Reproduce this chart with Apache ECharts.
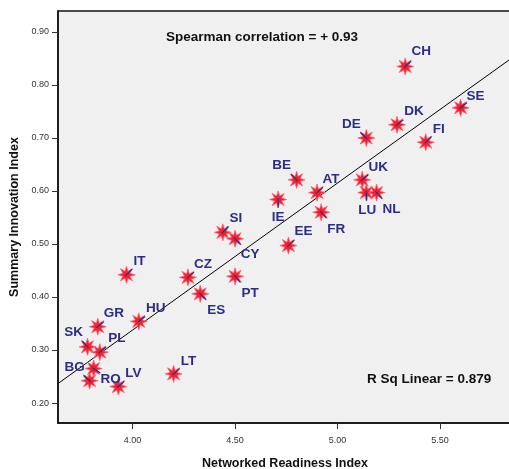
<!DOCTYPE html>
<html>
<head>
<meta charset="utf-8">
<style>
  html, body { margin: 0; padding: 0; background: #fff; }
  #chart { width: 509px; height: 469px; }
</style>
<script src="https://cdn.jsdelivr.net/npm/echarts@6/dist/echarts.min.js"></script>
</head>
<body>
<div id="chart"></div>
<script>
// country codes
const countries = ['CH', 'SE', 'DK', 'DE', 'FI', 'BE', 'UK', 'AT', 'LU', 'NL', 'IE', 'FR', 'EE', 'SI', 'CY',
  'IT', 'CZ', 'PT', 'ES', 'HU', 'GR', 'SK', 'PL', 'BG', 'RO', 'LV', 'LT']
// Networked Readiness Index (x)
const nri = [5.33, 5.60, 5.29, 5.14, 5.43, 4.80, 5.12, 4.90, 5.14, 5.19, 4.71, 4.92, 4.76, 4.44, 4.50,
  3.97, 4.27, 4.50, 4.33, 4.03, 3.83, 3.78, 3.84, 3.79, 3.81, 3.93, 4.20]
// Summary Innovation Index (y)
const sii = [0.835, 0.757, 0.725, 0.700, 0.692, 0.621, 0.621, 0.597, 0.597, 0.597, 0.584, 0.560, 0.497, 0.522, 0.510,
  0.442, 0.437, 0.439, 0.406, 0.354, 0.344, 0.306, 0.296, 0.242, 0.265, 0.231, 0.255]
const xTicks = [4.0, 4.5, 5.0, 5.5]
const yTicks = [0.2, 0.3, 0.4, 0.5, 0.6, 0.7, 0.8, 0.9]

// where each label sits relative to its marker (px)
const labelOffset = {
  CH: [16, -15], SE: [15, -12], DK: [17, -13], DE: [-15, -14], FI: [13, -13], BE: [-15, -15],
  UK: [16, -13], AT: [14, -13], LU: [1, 18], NL: [15, 17], IE: [0, 18], FR: [15, 17], EE: [15, -14],
  SI: [13, -14], CY: [15, 16], IT: [13, -13], CZ: [15, -13], PT: [15, 17], ES: [16, 16], HU: [17, -13],
  GR: [16, -13], SK: [-14, -15], PL: [17, -14], BG: [-15, -13], RO: [17, 11], LV: [15, -13], LT: [15, -13]
}

const xMin = 3.636, xMax = 5.851
const yMin = 0.1623, yMax = 0.9396

// least squares fit line
function fitLine(xs, ys) {
  const n = xs.length
  const mx = xs.reduce((a, b) => a + b, 0) / n
  const my = ys.reduce((a, b) => a + b, 0) / n
  let sxy = 0, sxx = 0
  for (let i = 0; i < n; i++) {
    sxy += (xs[i] - mx) * (ys[i] - my)
    sxx += (xs[i] - mx) * (xs[i] - mx)
  }
  const b = sxy / sxx
  const a = my - b * mx
  return [[xMin, a + b * xMin], [xMax, a + b * xMax]]
}

// 8 point burst marker
function starPath() {
  const pts = []
  for (let i = 0; i < 16; i++) {
    const r = i % 2 === 0 ? 10 : 4.4
    const ang = Math.PI * i / 8 - Math.PI / 2
    pts.push((10 + r * Math.cos(ang)).toFixed(2) + ' ' + (10 + r * Math.sin(ang)).toFixed(2))
  }
  return 'path://M' + pts.join(' L') + ' Z'
}

const points = countries.map((c, i) => ({
  name: c,
  value: [nri[i], sii[i]],
  label: { offset: labelOffset[c] }
}))

const font = '"Liberation Sans", Arial, sans-serif'
const chart = echarts.init(document.getElementById('chart'))

chart.setOption({
  animation: false,
  backgroundColor: '#fff',
  grid: {
    left: 58,
    top: 11,
    right: -3,
    bottom: 46,
    containLabel: false,
    outerBoundsMode: 'none',
    show: true,
    backgroundColor: '#f0f0f0',
    borderColor: '#111',
    borderWidth: 1.5
  },
  xAxis: {
    type: 'value',
    min: xMin,
    max: xMax,
    name: 'Networked Readiness Index',
    nameLocation: 'middle',
    nameGap: 34,
    nameTextStyle: { fontFamily: font, fontWeight: 'bold', fontSize: 12.5, color: '#111' },
    splitLine: { show: false },
    axisLine: { lineStyle: { color: '#111', width: 1.5 } },
    axisTick: { customValues: xTicks, length: 6, lineStyle: { color: '#333' } },
    axisLabel: {
      customValues: xTicks,
      margin: 13,
      fontFamily: font,
      fontSize: 9,
      color: '#333',
      formatter: v => v.toFixed(2)
    }
  },
  yAxis: {
    type: 'value',
    min: yMin,
    max: yMax,
    name: 'Summary Innovation Index',
    nameLocation: 'middle',
    nameGap: 27,
    nameTextStyle: { fontFamily: font, fontWeight: 'bold', fontSize: 12.5, color: '#111' },
    splitLine: { show: false },
    axisLine: { lineStyle: { color: '#111', width: 1.5 } },
    axisTick: { customValues: yTicks, length: 6, lineStyle: { color: '#333' } },
    axisLabel: {
      customValues: yTicks,
      margin: 9,
      fontFamily: font,
      fontSize: 9,
      color: '#333',
      formatter: v => v.toFixed(2)
    }
  },
  graphic: [
    {
      type: 'text',
      left: 166,
      top: 30,
      style: { text: 'Spearman correlation = + 0.93', font: 'bold 13.5px ' + font, fill: '#111' }
    },
    {
      type: 'text',
      left: 367,
      top: 372,
      style: { text: 'R Sq Linear = 0.879', font: 'bold 13.5px ' + font, fill: '#111' }
    }
  ],
  series: [
    {
      type: 'line',
      data: fitLine(nri, sii),
      symbol: 'none',
      lineStyle: { color: '#000', width: 1 },
      z: 2
    },
    {
      type: 'scatter',
      data: points,
      symbol: starPath(),
      symbolSize: 17,
      itemStyle: { color: '#f2202f', borderColor: '#ff6070', borderWidth: 0.8, opacity: 1 },
      label: {
        show: true,
        position: 'inside',
        formatter: p => p.name,
        fontFamily: font,
        fontWeight: 'bold',
        fontSize: 13.5,
        color: '#2b2d86'
      },
      z: 3
    },
    {
      // short leader ticks pointing from each marker toward its label
      type: 'custom',
      data: points.map(p => p.value),
      renderItem: function(params, api) {
        const c = countries[params.dataIndex]
        const o = labelOffset[c]
        const len = Math.sqrt(o[0] * o[0] + o[1] * o[1])
        const pt = api.coord([api.value(0), api.value(1)])
        return {
          type: 'line',
          shape: {
            x1: pt[0] - o[0] / len * 1.5,
            y1: pt[1] - o[1] / len * 1.5,
            x2: pt[0] + o[0] / len * 8,
            y2: pt[1] + o[1] / len * 8
          },
          style: { stroke: '#2b2d86', lineWidth: 1.2 }
        }
      },
      z: 4
    }
  ]
})
</script>
</body>
</html>
